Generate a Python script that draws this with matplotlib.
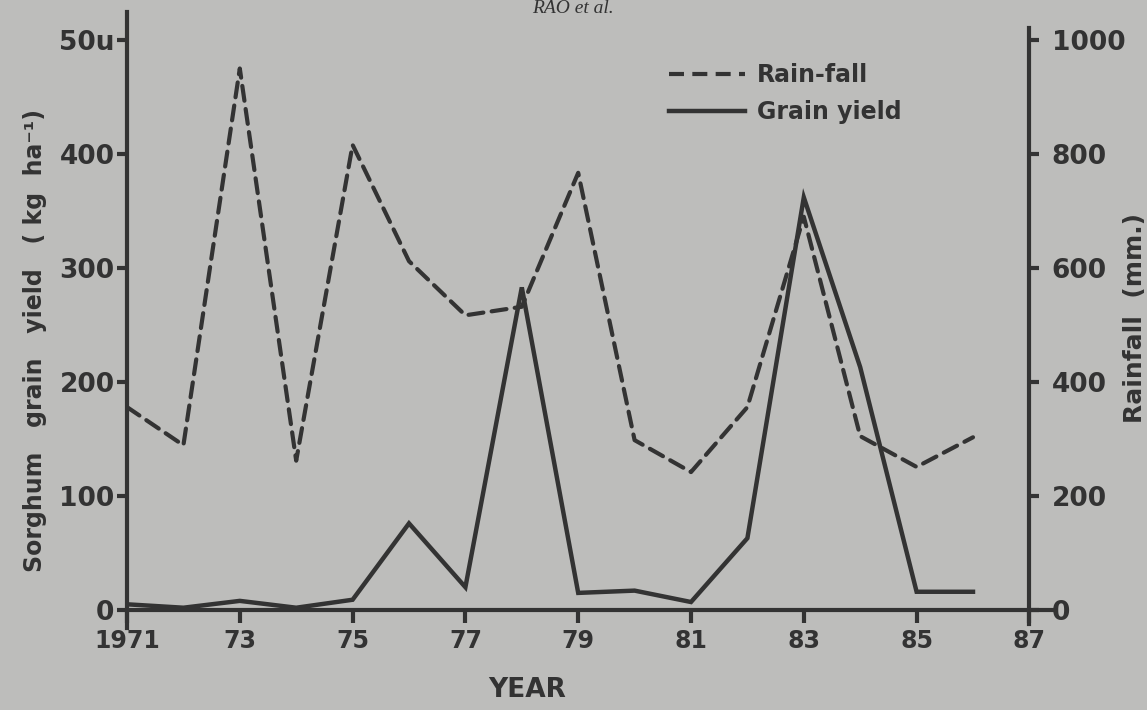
import numpy as np
import matplotlib
matplotlib.use("Agg")
import matplotlib.pyplot as plt
from matplotlib.lines import Line2D

# data
years = [1971, 1972, 1973, 1974, 1975, 1976, 1977, 1978, 1979, 1980, 1981, 1982, 1983, 1984, 1985, 1986]
rainfall = [356, 289, 950, 262, 816, 612, 517, 532, 767, 298, 242, 356, 690, 305, 251, 303]   # mm, right axis
grain_yield = [5, 2, 8, 2, 9, 76, 20, 283, 15, 17, 7, 63, 362, 213, 16, 16]          # kg/ha, left axis

year_ticks = [1971, 1973, 1975, 1977, 1979, 1981, 1983, 1985, 1987]
year_labels = ["1971", "73", "75", "77", "79", "81", "83", "85", "87"]
yield_ticks = [0, 100, 200, 300, 400, 500]
yield_labels = ["0", "100", "200", "300", "400", "50u"]
rain_ticks = [0, 200, 400, 600, 800, 1000]

bg = "#bdbdbb"
ink = "#333333"
plt.rcParams['font.family'] = ['DejaVu Sans']
plt.rcParams['font.weight'] = 'bold'

fig = plt.figure(figsize=(11.47, 7.10), dpi=100, facecolor=bg)
ax = fig.add_axes([127/1147, 1-628/710, (1052-127)/1147, (628-12)/710])
ax.set_facecolor(bg)
ax.patch.set_alpha(0)

# left axis: 0 at y=610px, 500 at y=40px -> 1.14 px per unit
ax.set_ylim(-18/1.14, (610-12)/1.14)
ax.set_xlim(1971, 1971 + (1052-127)/56.4)

ax2 = ax.twinx()
ax2.set_ylim(-18/0.57, (610-12)/0.57)
ax2.patch.set_alpha(0)

ax2.plot(years, rainfall, color=ink, lw=3.0, ls=(0, (3.6, 2.0)), dash_capstyle='round')
ax.plot(years, grain_yield, color=ink, lw=3.2, solid_joinstyle='miter')

for a in (ax, ax2):
    for s in ('top', 'bottom', 'left', 'right'):
        a.spines[s].set_visible(False)

ax.spines['left'].set_visible(True)
ax.spines['left'].set_linewidth(3)
ax.spines['left'].set_color(ink)
ax.spines['bottom'].set_visible(True)
ax.spines['bottom'].set_position(('data', 0))
ax.spines['bottom'].set_linewidth(3)
ax.spines['bottom'].set_color(ink)

ax2.spines['right'].set_visible(True)
ax2.spines['right'].set_position(('data', 1987))
ax2.spines['right'].set_bounds(-24, (610-28)/0.57)
ax2.spines['right'].set_linewidth(3)
ax2.spines['right'].set_color(ink)

ax.set_xticks(year_ticks)
ax.set_xticklabels(year_labels, fontsize=17, fontweight='bold', color=ink)
ax.set_yticks(yield_ticks)
ax.set_yticklabels(yield_labels, fontsize=19, fontweight='bold', color=ink)
ax2.set_yticks(rain_ticks)
ax2.set_yticklabels([str(t) for t in rain_ticks], fontsize=19, fontweight='bold', color=ink)

ax.tick_params(axis='x', direction='out', length=9, width=3, color=ink, pad=5)
ax.tick_params(axis='y', direction='out', length=7, width=3, color=ink, pad=2)
ax2.tick_params(axis='y', direction='out', length=7, width=3, color=ink, pad=9)

# legend
handles = [Line2D([], [], color=ink, lw=3.0, ls=(0, (3.6, 2.0))),
           Line2D([], [], color=ink, lw=3.2)]
fig.legend(handles, ["Rain-fall", "Grain yield"], loc='upper left',
           bbox_to_anchor=(648/1147, 1-42/710), frameon=False,
           prop={'size': 17, 'weight': 'bold'}, labelcolor=ink,
           handlelength=3.2, labelspacing=0.55, handletextpad=0.5)

fig.text(35/1147, 1-340/710, "Sorghum   grain   yield   ( kg  ha\u207b\u00b9)", rotation=90,
         ha='center', va='center', fontsize=17, fontweight='bold', color=ink)
fig.text(1135/1147, 1-318/710, "Rainfall  (mm.)", rotation=90,
         ha='center', va='center', fontsize=18, fontweight='bold', color=ink)
fig.text(527/1147, 1-690/710, "YEAR", ha='center', va='center',
         fontsize=19, fontweight='bold', color=ink)
fig.text(573/1147, 1.0, "RAO et al.", ha='center', va='top',
         fontsize=14, family='Liberation Serif', style='italic', fontweight='normal', color=ink)

fig.savefig("out.png", dpi=100, facecolor=bg)
